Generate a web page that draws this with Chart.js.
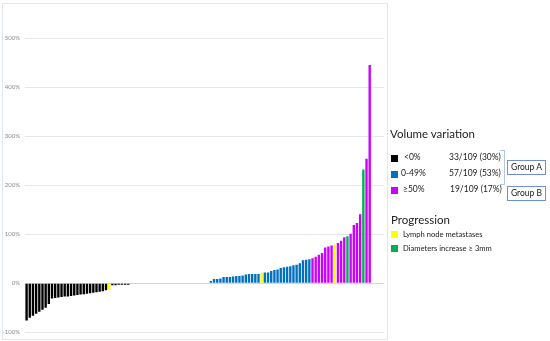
<!DOCTYPE html>
<html>
<head>
<meta charset="utf-8">
<script src="https://cdn.jsdelivr.net/npm/chart.js@4"></script>
<style>
  body { margin: 0; background: #fff; font-family: Lato, "Liberation Sans", sans-serif; color: #222; }
  #wrap { position: relative; width: 550px; height: 341px; overflow: hidden; }
  #chartBox { position: absolute; left: 0; top: 0; width: 550px; height: 341px; }
  #frame { position: absolute; left: 2px; top: 3px; width: 384px; height: 335px; border: 1px solid #e1e8f4; }
  .t { position: absolute; white-space: nowrap; line-height: 1; }
  .h { font-size: 11.5px; }
  .it { font-size: 8.5px; }
  .pr { font-size: 7.6px; }
  .sq { position: absolute; width: 7px; height: 7px; }
  .grp { position: absolute; width: 37px; height: 13px; border: 1px solid #6f8fcf; font-size: 8.5px; line-height: 13px; text-align: center; }
</style>
</head>
<body>
<div id="wrap">
  <div id="frame"></div>
  <div id="chartBox"><canvas id="waterfall"></canvas></div>

  <div class="t h" style="left:390px; top:128px;">Volume variation</div>
  <div class="sq" style="left:391px; top:155px; background:#000;"></div>
  <div class="t it" style="left:404px; top:153px;">&lt;0%</div>
  <div class="t it" style="left:449px; top:153px;">33/109 (30%)</div>
  <div class="sq" style="left:391px; top:171px; background:#0070c0;"></div>
  <div class="t it" style="left:401px; top:169px;">0-49%</div>
  <div class="t it" style="left:449px; top:169px;">57/109 (53%)</div>
  <div class="sq" style="left:391px; top:187px; background:#cc00ff;"></div>
  <div class="t it" style="left:403px; top:185px;">≥50%</div>
  <div class="t it" style="left:450px; top:185px;">19/109 (17%)</div>

  <div style="position:absolute; left:500px; top:150px; width:4px; height:33px; border:1px solid #b4c6e7; border-left:none;"></div>
  <div class="grp" style="left:507px; top:160px;">Group A</div>
  <div class="grp" style="left:507px; top:186px;">Group B</div>

  <div class="t h" style="left:391px; top:214px;">Progression</div>
  <div class="sq" style="left:391px; top:231px; background:#ffff00;"></div>
  <div class="t pr" style="left:403px; top:231px;">Lymph node metastases</div>
  <div class="sq" style="left:391px; top:245px; background:#00b050;"></div>
  <div class="t pr" style="left:403px; top:245px;">Diameters increase ≥ 3mm</div>
</div>

<script>
// volume variation per patient (%), sorted
const values = [
  -76, -70, -66, -62, -58, -54, -50, -42, -31, -30,
  -29, -28, -27, -27, -26, -25, -24, -23, -22, -21,
  -20, -19, -18, -17, -16, -14, -13, -4, -4, -3,
  -3, -3, -3, 0, 0, 0, 0, 0, 0, 0,
  0, 0, 0, 0, 0, 0, 0, 0, 0, 0,
  0, 0, 0, 0, 0, 0, 0, 0, 5, 9,
  9, 10, 13, 13, 13, 14, 15, 15, 16, 18,
  19, 19, 19, 19, 21, 22, 22, 25, 27, 28,
  31, 33, 34, 35, 37, 38, 41, 47, 48, 49,
  51, 54, 58, 62, 73, 75, 77, 79, 82, 87,
  94, 96, 101, 119, 123, 141, 232, 254, 445
];
// indexes of patients with progression
const lymphNode = [26, 74, 97];
const diameters = [101, 106];
const yTicks = [-100, 0, 100, 200, 300, 400, 500];
const emptySlots = 4;

const labels = values.map((v, i) => String(i + 1));
for (let k = 0; k < emptySlots; k++) labels.push('');
const data = values.concat(new Array(emptySlots).fill(null));

const colors = values.map((v, i) => {
  if (lymphNode.includes(i)) return '#ffff00';
  if (diameters.includes(i)) return '#00b050';
  if (v < 0) return '#000000';
  if (v < 50) return '#0070c0';
  return '#cc00ff';
});

const ctx = document.getElementById('waterfall').getContext('2d');
const chart = new Chart(ctx, {
  type: 'bar',
  data: {
    labels: labels,
    datasets: [{
      data: data,
      backgroundColor: colors,
      borderWidth: 0,
      barPercentage: 0.75,
      categoryPercentage: 1.0
    }]
  },
  options: {
    responsive: true,
    maintainAspectRatio: false,
    animation: false,
    layout: { padding: { left: 0, right: 166, top: 38, bottom: 7 } },
    plugins: { legend: { display: false }, tooltip: { enabled: false } },
    scales: {
      x: { display: false, offset: true },
      y: {
        min: yTicks[0],
        max: yTicks[yTicks.length - 1],
        afterFit: (scale) => { scale.width = 25; },
        afterBuildTicks: (scale) => { scale.ticks = yTicks.map(v => ({ value: v })); },
        border: { display: false },
        grid: {
          drawTicks: false,
          color: (c) => (c.tick && c.tick.value === 0 ? '#d6d6d6' : '#e8e8e8')
        },
        ticks: {
          padding: 5,
          color: '#8a8a8a',
          font: { family: 'Lato', size: 6 },
          callback: (value) => value + '%'
        }
      }
    }
  }
});
</script>
</body>
</html>
